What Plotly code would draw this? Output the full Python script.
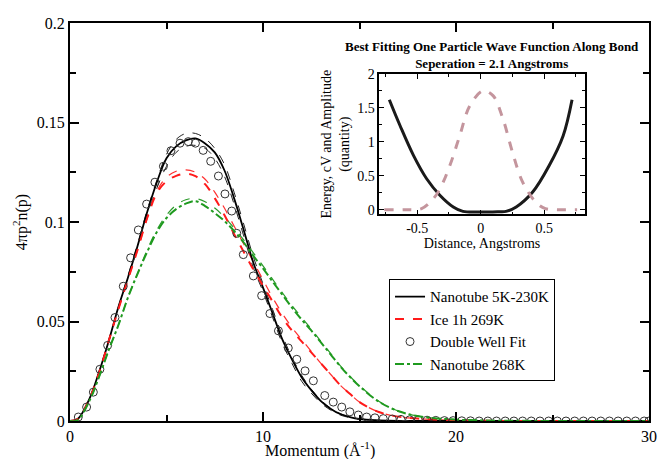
import plotly.graph_objects as go

# main panel: momentum distributions 4*pi*p^2*n(p)
mom = [0, 0.4, 1.0, 1.5, 2.0, 2.5, 3.0, 3.5, 4.0, 4.5, 5.0, 5.5, 6.0, 6.5, 7.0, 7.5,
       8.0, 8.5, 9.0, 9.5, 10.0, 10.5, 11.0, 11.5, 12.0, 12.5, 13.0, 13.5, 14.0, 14.5,
       15.0, 16.0, 17.0, 18.0, 20.0, 25.0, 30.0]

nano_lowT = [0, 0.001, 0.011, 0.0245, 0.040, 0.057, 0.072, 0.088, 0.105, 0.120, 0.132, 0.138,
             0.141, 0.142, 0.1395, 0.135, 0.126, 0.112, 0.096, 0.0795, 0.067, 0.054, 0.041,
             0.031, 0.022, 0.0155, 0.010, 0.0062, 0.0035, 0.002, 0.001, 0.0003, 0, 0, 0, 0, 0]
nano_lowT_hi = [0, 0.001, 0.011, 0.0245, 0.040, 0.057, 0.073, 0.089, 0.106, 0.121, 0.134, 0.1415,
                0.1445, 0.1445, 0.142, 0.137, 0.129, 0.115, 0.099, 0.0825, 0.069, 0.056, 0.043,
                0.032, 0.023, 0.016, 0.0105, 0.0065, 0.0037, 0.002, 0.001, 0.0003, 0, 0, 0, 0, 0]
nano_lowT_lo = [0, 0.001, 0.011, 0.0245, 0.040, 0.056, 0.071, 0.087, 0.103, 0.117, 0.128, 0.135,
                0.138, 0.1385, 0.137, 0.132, 0.123, 0.109, 0.093, 0.077, 0.065, 0.052, 0.039,
                0.029, 0.020, 0.014, 0.009, 0.0055, 0.003, 0.0017, 0.0009, 0.0003, 0, 0, 0, 0, 0]

ice = [0, 0.001, 0.011, 0.024, 0.040, 0.056, 0.071, 0.086, 0.102, 0.1145, 0.1205, 0.1232,
       0.1243, 0.123, 0.119, 0.112, 0.1035, 0.094, 0.085, 0.0762, 0.068, 0.060, 0.052,
       0.0455, 0.040, 0.0345, 0.029, 0.0235, 0.018, 0.0137, 0.0095, 0.0045, 0.0022,
       0.0012, 0.0003, 0, 0]
ice_hi = [0, 0.001, 0.011, 0.024, 0.040, 0.056, 0.071, 0.086, 0.102, 0.1155, 0.1225, 0.1255,
          0.1262, 0.125, 0.1215, 0.115, 0.107, 0.098, 0.089, 0.080, 0.071, 0.062, 0.054,
          0.047, 0.041, 0.035, 0.029, 0.0235, 0.018, 0.0137, 0.0095, 0.0045, 0.0022,
          0.0012, 0.0003, 0, 0]

nano_268 = [0, 0.0005, 0.010, 0.022, 0.0355, 0.048, 0.062, 0.074, 0.085, 0.095, 0.102, 0.1065,
            0.1092, 0.1105, 0.108, 0.1045, 0.1005, 0.0955, 0.0897, 0.083, 0.0767, 0.070, 0.0635,
            0.057, 0.051, 0.0455, 0.0395, 0.0335, 0.0275, 0.0222, 0.0175, 0.0097, 0.005,
            0.0025, 0.0007, 0, 0]
nano_268_hi = [0, 0.0005, 0.010, 0.022, 0.0355, 0.048, 0.062, 0.074, 0.086, 0.096, 0.1035, 0.1085,
               0.1112, 0.1118, 0.1102, 0.107, 0.1025, 0.097, 0.091, 0.0845, 0.078, 0.0712, 0.0645,
               0.058, 0.052, 0.0463, 0.040, 0.034, 0.0278, 0.0225, 0.0178, 0.0099, 0.005,
               0.0025, 0.0007, 0, 0]

mom_fit = [0.43, 0.86, 1.21, 1.55, 1.95, 2.33, 2.76, 3.14, 3.54, 3.97, 4.40, 4.84, 5.23, 5.70,
           6.13, 6.50, 6.90, 7.29, 7.69, 8.03, 8.38, 8.64, 8.98, 9.5, 9.93, 10.36, 10.8, 11.31,
           11.75, 12.18, 12.61, 13.2, 13.64, 14.08, 14.5, 14.94, 15.37, 15.8, 16.23, 16.7,
           17.15, 17.6, 18.05, 18.5, 18.95, 19.4, 19.85, 20.3, 20.75, 21.2, 21.65, 22.1,
           22.55, 23.0, 23.45, 23.9, 24.35, 24.8, 25.25, 25.7, 26.15, 26.6, 27.05, 27.5,
           27.95, 28.4, 28.85, 29.3, 29.75, 30.0]
double_well = [0.002, 0.007, 0.0145, 0.026, 0.038, 0.052, 0.0677, 0.082, 0.096, 0.109, 0.120,
               0.128, 0.1358, 0.1396, 0.1404, 0.1396, 0.136, 0.1305, 0.1231, 0.1141, 0.1055,
               0.0943, 0.0836, 0.0729, 0.063, 0.054, 0.0453, 0.0367, 0.031, 0.0252, 0.0202,
               0.0128, 0.0095, 0.007, 0.0046, 0.003, 0.002, 0.0016, 0.0012, 0.001, 0.0008,
               0.0006, 0.0005, 0.0004, 0.0003, 0.0002, 0.0002, 0.0001, 0.0001, 0, 0, 0, 0, 0,
               0, 0, 0, 0, 0, 0, 0, 0, 0, 0, 0, 0, 0, 0, 0, 0]

# inset: potential and wave function along the bond
dist_pot = [-0.72, -0.636, -0.53, -0.426, -0.32, -0.216, -0.14, -0.01, 0.14, 0.2, 0.28,
            0.41, 0.54, 0.65, 0.72]
potential = [1.62, 1.24, 0.80, 0.456, 0.21, 0.04, -0.025, -0.035, -0.03, -0.025, 0.04,
             0.26, 0.65, 1.09, 1.62]
dist_wf = [-0.76, -0.6, -0.466, -0.374, -0.32, -0.243, -0.165, -0.086, 0.018, 0.097, 0.175,
           0.25, 0.33, 0.435, 0.51, 0.6, 0.76]
wavefn = [0, 0, 0.015, 0.16, 0.31, 0.65, 1.09, 1.53, 1.75, 1.68, 1.34, 0.85, 0.41, 0.11,
          0.015, 0, 0]

SERIF = "Liberation Serif"

fig = go.Figure()

fig.add_trace(go.Scatter(x=mom, y=nano_lowT_hi, mode="lines", line_shape="spline",
                         line=dict(color="#222", width=1, dash="dash"), showlegend=False))
fig.add_trace(go.Scatter(x=mom, y=nano_lowT_lo, mode="lines", line_shape="spline",
                         line=dict(color="#222", width=1, dash="dash"), showlegend=False))
fig.add_trace(go.Scatter(x=mom, y=ice_hi, mode="lines", line_shape="spline",
                         line=dict(color="#ff3030", width=1.2, dash="dash"), showlegend=False))
fig.add_trace(go.Scatter(x=mom, y=nano_268_hi, mode="lines", line_shape="spline",
                         line=dict(color="#2a9a2a", width=1.2, dash="dash"), showlegend=False))

fig.add_trace(go.Scatter(x=mom, y=nano_lowT, mode="lines", line_shape="spline",
                         name="Nanotube 5K-230K", line=dict(color="black", width=1.8)))
fig.add_trace(go.Scatter(x=mom, y=ice, mode="lines", line_shape="spline",
                         name="Ice 1h 269K", line=dict(color="#ff1a1a", width=2, dash="dash")))
fig.add_trace(go.Scatter(x=mom_fit, y=double_well, mode="markers", name="Double Well Fit",
                         marker=dict(symbol="circle-open", size=8, color="#333",
                                     line=dict(width=1))))
fig.add_trace(go.Scatter(x=mom, y=nano_268, mode="lines", line_shape="spline",
                         name="Nanotube 268K",
                         line=dict(color="#1f9a1f", width=2, dash="dashdot")))

fig.add_trace(go.Scatter(x=dist_pot, y=potential, mode="lines", line_shape="spline",
                         line=dict(color="#1a1a1a", width=3), showlegend=False,
                         xaxis="x2", yaxis="y2"))
fig.add_trace(go.Scatter(x=dist_wf, y=wavefn, mode="lines", line_shape="spline",
                         line=dict(color="#c4959d", width=3, dash="dash"), showlegend=False,
                         xaxis="x2", yaxis="y2"))

axis_common = dict(showline=True, linecolor="black", mirror="ticks", ticks="inside",
                   tickcolor="black", showgrid=False, zeroline=False)

# the page body adds an 8px margin, so the figure is 8px smaller on each side
fig.update_layout(
    width=661, height=451,
    margin=dict(l=62, r=20, t=8, b=38),
    paper_bgcolor="white", plot_bgcolor="white",
    font=dict(family=SERIF, color="black"),
    xaxis=dict(range=[0, 30], tickvals=[0, 10, 20, 30], ticklen=9, tickwidth=1.5,
               linewidth=2, tickfont=dict(size=16),
               minor=dict(dtick=5, ticks="inside", ticklen=6, tickcolor="black"),
               **axis_common),
    yaxis=dict(range=[0, 0.2], dtick=0.05, ticklen=9, tickwidth=1.5, linewidth=2,
               tickfont=dict(size=16),
               title=dict(text="4πp<sup>2</sup>n(p)", font=dict(size=16), standoff=5),
               minor=dict(dtick=0.025, ticks="inside", ticklen=6, tickcolor="black"),
               **axis_common),
    xaxis2=dict(domain=[0.534, 0.889], anchor="y2", range=[-0.8, 0.82],
                tickvals=[-0.5, 0, 0.5], ticktext=["-0.5", "0", "0.5"], ticklen=5,
                linewidth=1.5, tickfont=dict(size=14),
                title=dict(text="Distance, Angstroms", font=dict(size=14), standoff=2),
                minor=dict(dtick=0.25, ticks="inside", ticklen=3, tickcolor="black"),
                **axis_common),
    yaxis2=dict(domain=[0.519, 0.872], anchor="x2", range=[-0.07, 2], dtick=0.5,
                ticklen=5, linewidth=1.5, tickfont=dict(size=14),
                title=dict(text="Energy, cV and Amplitude<br>(quantity)",
                           font=dict(size=14), standoff=4),
                minor=dict(dtick=0.25, ticks="inside", ticklen=3, tickcolor="black"),
                **axis_common),
    legend=dict(x=0.551, y=0.356, xanchor="left", yanchor="top",
                bordercolor="black", borderwidth=1, bgcolor="white",
                font=dict(size=15, family=SERIF), tracegroupgap=0, itemwidth=30),
    annotations=[
        dict(text="Momentum (Å<sup>-1</sup>)", xref="paper", yref="paper",
             x=0.432, y=-0.072, xanchor="center", yanchor="middle", showarrow=False,
             font=dict(size=16, family=SERIF)),
        dict(text="<b>Best Fitting One Particle Wave Function Along Bond<br>"
                  "Seperation = 2.1 Angstroms</b>",
             xref="paper", yref="paper", x=0.728, y=0.875, xanchor="center",
             yanchor="bottom", showarrow=False, font=dict(size=13, family=SERIF)),
    ],
)

fig.write_html("out.html")
